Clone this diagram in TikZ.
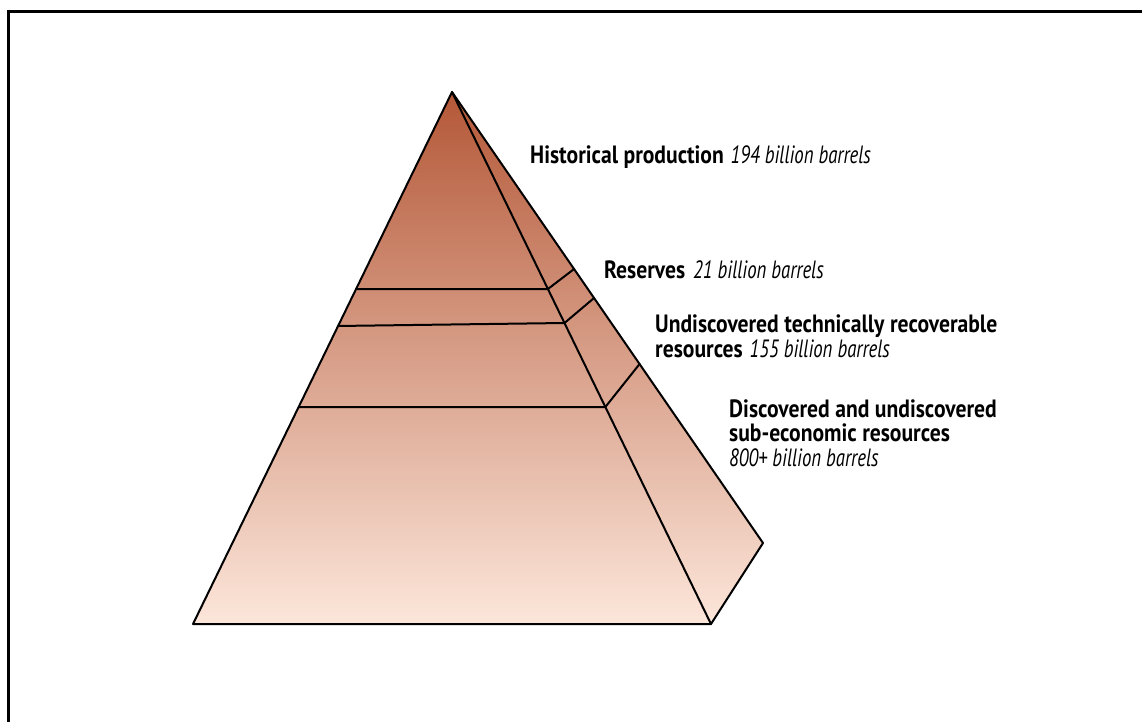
\documentclass[tikz,border=0pt]{standalone}
\usepackage{fontspec}
\setmainfont{PT Sans}
\newfontfamily\lblfont[BoldFeatures={FakeStretch=0.865},ItalicFeatures={FakeStretch=0.75}]{PT Sans}
\usetikzlibrary{calc}
\definecolor{ptop}{RGB}{180,88,56}
\definecolor{pmid}{RGB}{213,146,121}
\definecolor{pbot}{RGB}{252,230,218}
\begin{document}
\begin{tikzpicture}[x=1pt,y=-1pt,
  edge/.style={line width=2pt, line join=round, line cap=round},
  lbl/.style={anchor=base west, inner sep=0pt, align=left, text=black,
    font=\lblfont\fontsize{25}{24.5}\selectfont}]
\useasboundingbox (0,0) rectangle (1142,721);
\draw[line width=3pt] (8,725) -- (8,11) -- (1146,11);
% pyramid corners
\coordinate (A) at (452,92);
\coordinate (BL) at (193,624);
\coordinate (BR) at (711,624);
\coordinate (R) at (763,543);
\shade[top color=ptop, middle color=pmid, bottom color=pbot] (A) -- (BL) -- (BR) -- (R) -- cycle;
% layer boundaries
\coordinate (l1) at ($(A)!0.3703!(BL)$);
\coordinate (i1) at ($(A)!0.3703!(BR)$);
\coordinate (o1) at ($(A)!0.3925!(R)$);
\coordinate (l2) at ($(A)!0.4398!(BL)$);
\coordinate (i2) at ($(A)!0.4342!(BR)$);
\coordinate (o2) at ($(A)!0.4568!(R)$);
\coordinate (l3) at ($(A)!0.5921!(BL)$);
\coordinate (i3) at ($(A)!0.5921!(BR)$);
\coordinate (o3) at ($(A)!0.6031!(R)$);
\draw[edge] (l1) -- (i1) -- (o1);
\draw[edge] (l2) -- (i2) -- (o2);
\draw[edge] (l3) -- (i3) -- (o3);
\draw[edge] (A) -- (BR);
\draw[edge] (A) -- (BL) -- (BR) -- (R) -- cycle;
% labels (base anchor = baseline of the last line)
\node[lbl] (hp) at (530,163) {\textbf{Historical production} \textit{194 billion barrels}};
\node[lbl] (res) at (604,278) {\textbf{Reserves}\hspace{8pt}\textit{21 billion barrels}};
\node[lbl] (und) at (655,357) {\textbf{Undiscovered technically recoverable}\\\textbf{resources} \textit{155 billion barrels}};
\node[lbl] (dis) at (729,466) {\textbf{Discovered and undiscovered}\\\textbf{sub-economic resources}\\\textit{800+ billion barrels}};
\end{tikzpicture}
\end{document}
